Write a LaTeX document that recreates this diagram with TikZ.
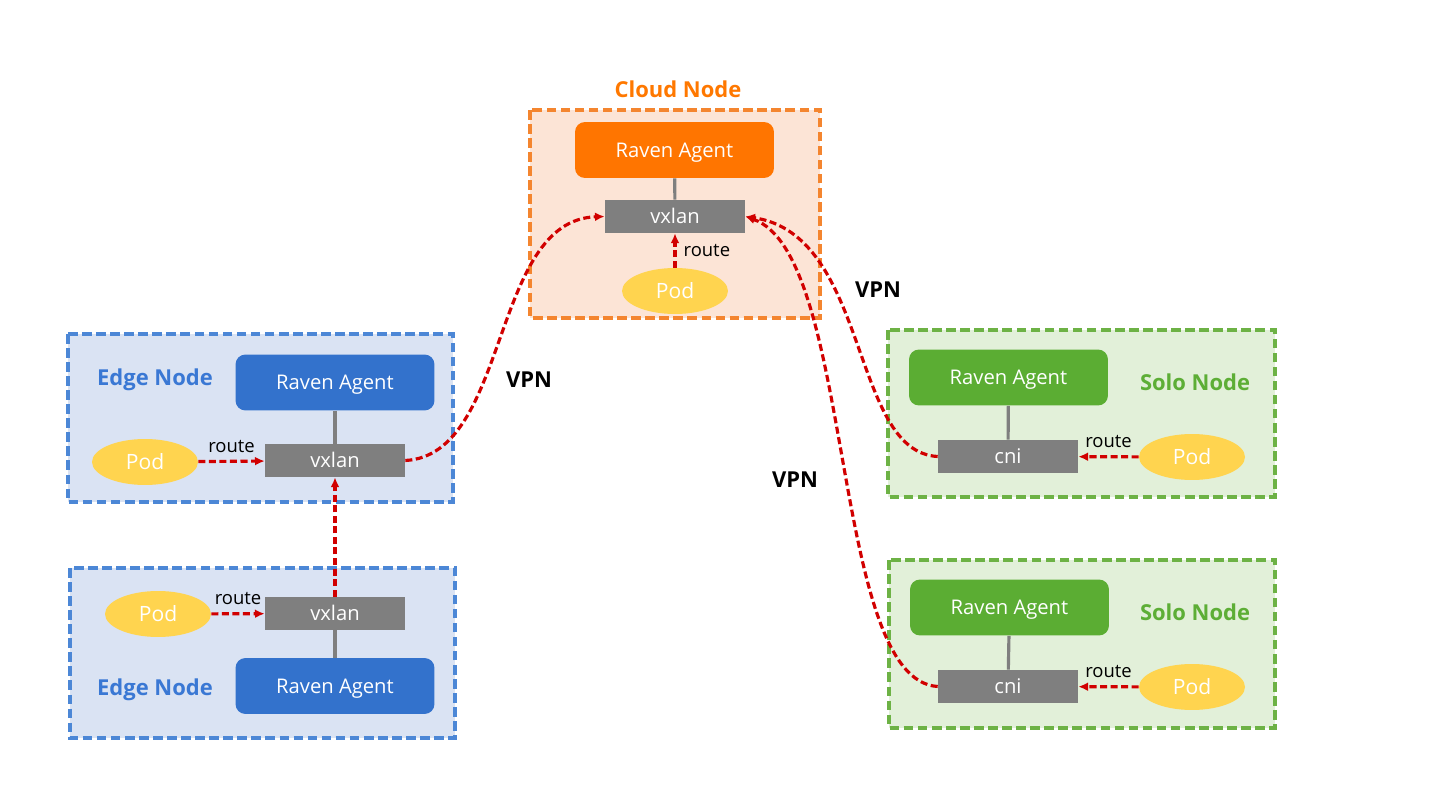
\documentclass[tikz,border=0pt]{standalone}
\usepackage{fontspec}
\setmainfont{Open Sans}
\usetikzlibrary{shapes.geometric, arrows.meta}
\definecolor{cloudfill}{HTML}{FCE4D6}
\definecolor{cloudline}{HTML}{F4852F}
\definecolor{cloudtext}{HTML}{FF7800}
\definecolor{cloudagent}{HTML}{FF7500}
\definecolor{edgefill}{HTML}{DAE3F3}
\definecolor{edgeline}{HTML}{4C87D6}
\definecolor{edgetext}{HTML}{3A78D4}
\definecolor{edgeagent}{HTML}{3372CC}
\definecolor{solofill}{HTML}{E2F0D9}
\definecolor{sololine}{HTML}{6DB245}
\definecolor{solotext}{HTML}{5DAE36}
\definecolor{soloagent}{HTML}{5BAD33}
\definecolor{devgray}{HTML}{7F7F7F}
\definecolor{podfill}{HTML}{FFD44F}
\definecolor{vpnred}{HTML}{D10000}
\begin{document}
\begin{tikzpicture}[x=0.02cm, y=-0.02cm, >={Latex[length=5.5pt,width=5pt]},
        agent/.style = {rounded corners=0.2cm, minimum width=3.98cm, minimum height=1.12cm, text=white, text height=1.5ex, text depth=0pt, font=\fontsize{11.5}{13}\selectfont},
        dev/.style = {fill=devgray, minimum width=2.8cm, minimum height=0.66cm, text=white, text height=1.5ex, text depth=0pt, font=\fontsize{11.5}{13}\selectfont},
        pod/.style = {ellipse, fill=podfill, minimum width=2.12cm, minimum height=0.92cm, text=white, text height=1.5ex, text depth=0pt, font=\fontsize{12}{14}\selectfont},
        box/.style = {line width=1.8pt, dash pattern=on 5.5pt off 2.5pt},
        title/.style = {font=\bfseries\fontsize{12.5}{14}\selectfont},
        link/.style = {draw=devgray, line width=1.8pt},
        vpn/.style = {->, draw=vpnred, line width=1.8pt, dash pattern=on 4pt off 2pt},
        lbl/.style = {font=\fontsize{10.5}{12}\selectfont, inner sep=4pt}]
        \useasboundingbox (0,0) rectangle (1440,810);
        % node boxes
        \filldraw[box, fill=cloudfill, draw=cloudline] (530,110) rectangle (820,318);
        \filldraw[box, fill=edgefill, draw=edgeline] (68,334) rectangle (453,502);
        \filldraw[box, fill=edgefill, draw=edgeline] (70,568) rectangle (455,738);
        \filldraw[box, fill=solofill, draw=sololine] (888,330) rectangle (1275,497);
        \filldraw[box, fill=solofill, draw=sololine] (889,560) rectangle (1275,728);
        % cloud node
        \node[title, text=cloudtext] (ct) at (678,89) {Cloud Node};
        \node[agent, fill=cloudagent] (ca) at (674.5,150) {Raven Agent};
        \node[dev] (cx) at (675,216.5) {vxlan};
        \node[pod] (cp) at (675,291) {Pod};
        % edge nodes
        \node[title, text=edgetext] (e1t) at (155,380) {Edge Node};
        \node[agent, fill=edgeagent] (e1a) at (335,382.5) {Raven Agent};
        \node[dev] (e1x) at (335,460.5) {vxlan};
        \node[pod] (e1p) at (145,462) {Pod};
        \node[title, text=edgetext] (e2t) at (155,690) {Edge Node};
        \node[dev] (e2x) at (335,613.5) {vxlan};
        \node[agent, fill=edgeagent] (e2a) at (335,686) {Raven Agent};
        \node[pod] (e2p) at (158,614) {Pod};
        % solo nodes
        \node[title, text=solotext] (s1t) at (1195,382) {Solo Node};
        \node[agent, fill=soloagent] (s1a) at (1008.5,377.5) {Raven Agent};
        \node[dev] (s1x) at (1008,456.5) {cni};
        \node[pod] (s1p) at (1192,457) {Pod};
        \node[title, text=solotext] (s2t) at (1195,612) {Solo Node};
        \node[agent, fill=soloagent] (s2a) at (1009.5,607.5) {Raven Agent};
        \node[dev] (s2x) at (1008,686.5) {cni};
        \node[pod] (s2p) at (1192,687) {Pod};
        % agent links
        \draw[link] (ca) -- (cx);
        \draw[link] (e1a) -- (e1x);
        \draw[link] (e2a) -- (e2x);
        \draw[link] (s1a) -- (s1x);
        \draw[link] (s2a) -- (s2x);
        % routes
        \draw[vpn] (cp) -- node[lbl, midway, right] {route} (cx);
        \draw[vpn] (e1p) -- node[lbl, midway, above] {route} (e1x);
        \draw[vpn] (e2p) -- node[lbl, midway, above] {route} (e2x);
        \draw[vpn] (s1p) -- node[lbl, midway, above] {route} (s1x);
        \draw[vpn] (s2p) -- node[lbl, midway, above] {route} (s2x);
        % tunnels
        \draw[vpn] (e2x) -- (e1x);
        \draw[vpn] (e1x.east) .. controls (510,455) and (490,220) .. (cx.west);
        \draw[vpn] (s1x.west) .. controls (850,452) and (870,235) .. (cx.east);
        \draw[vpn] (s2x.west) .. controls (830,680) and (855,255) .. (cx.east);
        \node[title] (v1) at (529,380) {VPN};
        \node[title] (v2) at (878,290) {VPN};
        \node[title] (v3) at (795,480) {VPN};
    \end{tikzpicture}
\end{document}
